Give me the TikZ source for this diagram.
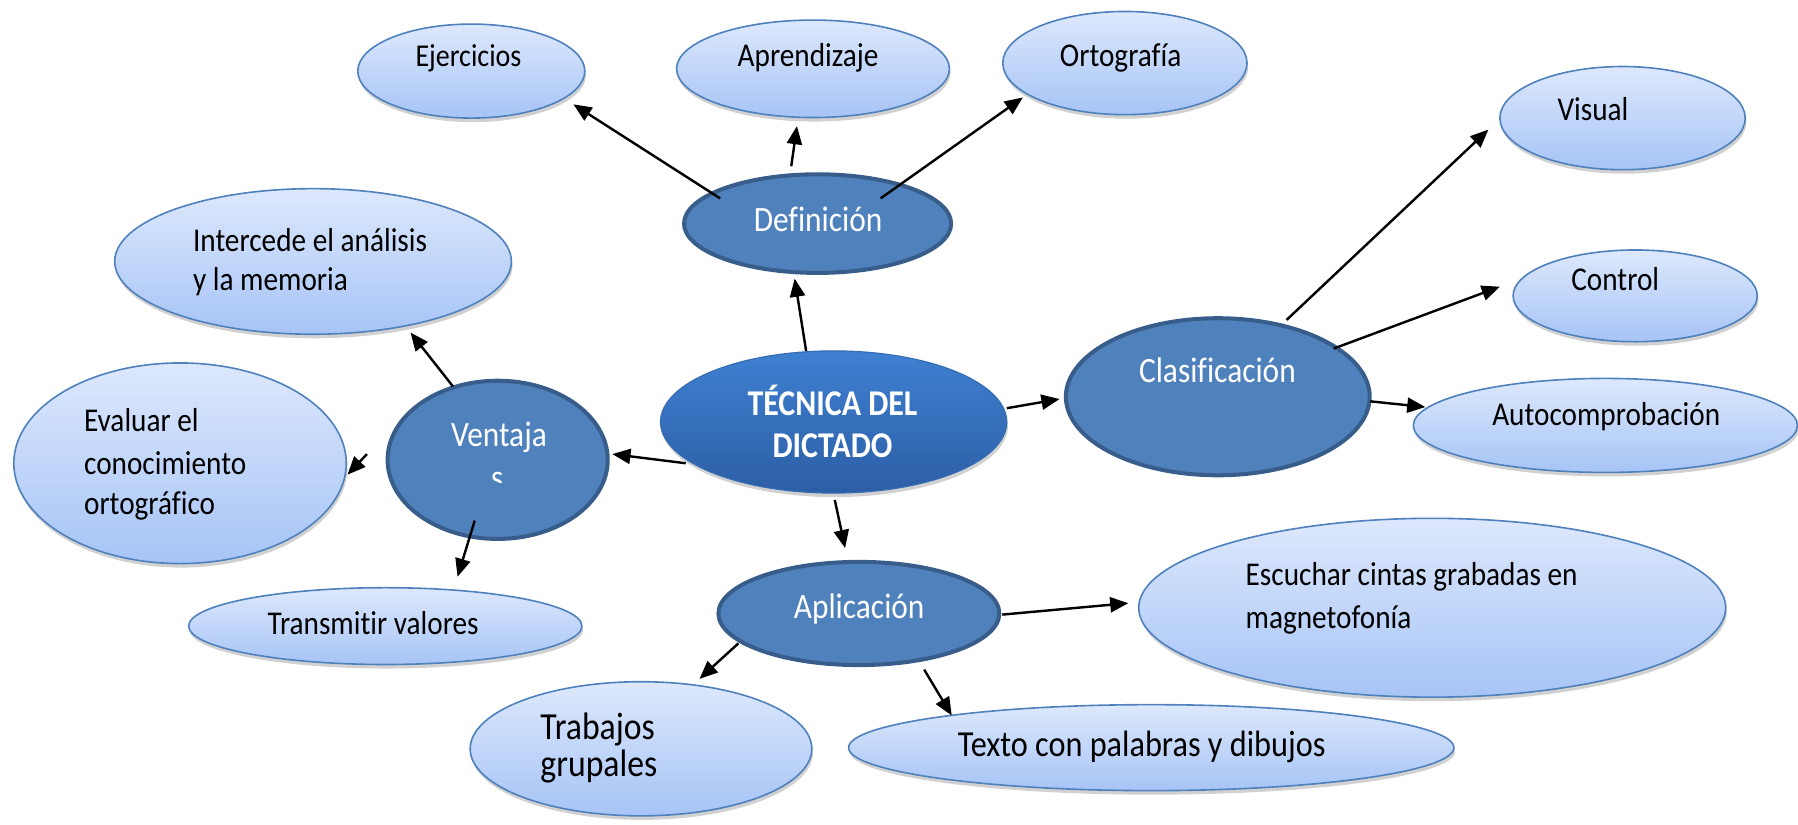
\documentclass[tikz,border=0pt]{standalone}
\usepackage{fontspec}
\setmainfont{Carlito}[FakeStretch=0.88,Ligatures=NoCommon]
\usetikzlibrary{shapes.geometric,arrows.meta,shadows}
\definecolor{lt}{HTML}{DDE8FC}
\definecolor{lb}{HTML}{A6C4F6}
\definecolor{lbord}{HTML}{4F81BD}
\definecolor{dk}{HTML}{4F81BD}
\definecolor{dkb}{HTML}{385D8A}
\definecolor{ct}{HTML}{3F80D2}
\definecolor{cb}{HTML}{2C5EA5}
\tikzset{
 shd/.style={drop shadow={shadow xshift=0.6pt, shadow yshift=-2pt, opacity=0.3, fill=black!60}},
 light/.style={ellipse, inner sep=0pt, draw=lbord, line width=0.8pt, top color=lt, bottom color=lb, shd},
 dark/.style={ellipse, inner sep=0pt, draw=dkb, line width=2pt, fill=dk},
 core/.style={ellipse, inner sep=0pt, draw=ct!85!black, line width=0.6pt, top color=ct, bottom color=cb, shd},
 lbl/.style={anchor=base west, inner sep=0pt, text=black, font=\fontsize{16.5pt}{20pt}\selectfont},
 dlbl/.style={anchor=base west, inner sep=0pt, text=white, font=\fontsize{17.7pt}{21pt}\selectfont},
 clbl/.style={anchor=base, inner sep=0pt, text=white, font=\fontsize{18pt}{21pt}\selectfont\bfseries},
 arr/.style={-{Triangle[length=9pt,width=7.5pt]}, line width=1.2pt, black},
}
\begin{document}
\begin{tikzpicture}[x=0.02cm, y=-0.02cm]
\useasboundingbox (0,0) rectangle (1568,719);
% light ellipses
\node[light, minimum width=3.96cm, minimum height=1.64cm] (ejer) at (411,62) {};
\node[light, minimum width=4.76cm, minimum height=1.70cm] (apre) at (709,60) {};
\node[light, minimum width=4.26cm, minimum height=1.80cm] (orto) at (981,55) {};
\node[light, minimum width=4.28cm, minimum height=1.80cm] (visu) at (1415,103) {};
\node[light, minimum width=4.26cm, minimum height=1.60cm] (cont) at (1426,258) {};
\node[light, minimum width=6.70cm, minimum height=1.64cm] (auto) at (1400,371) {};
\node[light, minimum width=6.92cm, minimum height=2.54cm] (inte) at (273,228) {};
\node[light, minimum width=5.80cm, minimum height=3.50cm] (eval) at (157,404) {};
\node[light, minimum width=6.86cm, minimum height=1.34cm] (tran) at (336,546) {};
\node[light, minimum width=10.24cm, minimum height=3.12cm] (escu) at (1249,530) {};
\node[light, minimum width=5.96cm, minimum height=2.34cm] (trab) at (559,653) {};
\node[light, minimum width=10.56cm, minimum height=1.50cm] (text) at (1004,652) {};
% dark ellipses
\node[dark, minimum width=4.66cm, minimum height=1.72cm] (defi) at (713,195) {};
\node[dark, minimum width=5.30cm, minimum height=2.74cm] (clas) at (1062,346) {};
\node[dark, minimum width=3.84cm, minimum height=2.76cm] (vent) at (434,401) {};
\node[dark, minimum width=4.90cm, minimum height=1.80cm] (apli) at (749,535) {};
\node[core, minimum width=6.04cm, minimum height=2.48cm] (tecn) at (727,368) {};
% labels
\node[lbl, font=\fontsize{15.8pt}{20pt}\selectfont] (l-ejer) at (362,58) {Ejercicios};
\node[lbl] (l-apre) at (643,58) {Aprendizaje};
\node[lbl] (l-orto) at (924,58) {Ortografía};
\node[lbl] (l-visu) at (1358,105) {Visual};
\node[lbl] (l-cont) at (1370,253) {Control};
\node[lbl] (l-auto) at (1301,371) {Autocomprobación};
\node[lbl] (l-inte1) at (168,219) {Intercede el análisis};
\node[lbl] (l-inte2) at (168,253) {y la memoria};
\node[lbl] (l-eval1) at (73,376) {Evaluar el};
\node[lbl] (l-eval2) at (73,414) {conocimiento};
\node[lbl] (l-eval3) at (73,449) {ortográfico};
\node[lbl] (l-tran) at (233,553) {Transmitir valores};
\node[lbl] (l-escu1) at (1086,511) {Escuchar cintas grabadas en};
\node[lbl] (l-escu2) at (1086,548) {magnetofonía};
\node[lbl, font=\fontsize{19pt}{20pt}\selectfont] (l-trab1) at (471,645) {Trabajos};
\node[lbl, font=\fontsize{19pt}{20pt}\selectfont] (l-trab2) at (471,677) {grupales};
\node[lbl, font=\fontsize{18.2pt}{20pt}\selectfont] (l-text) at (835,660) {Texto con palabras y dibujos};
\node[dlbl] (l-defi) at (657,202) {Definición};
\node[dlbl] (l-clas) at (993,334) {Clasificación};
\node[dlbl] (l-vent) at (393,389) {Ventaja};
\begin{scope}
\clip (380,400) rectangle (480,421);
\node[dlbl] (l-vents) at (428,427) {s};
\end{scope}
\node[dlbl] (l-apli) at (692,539) {Aplicación};
\node[clbl] (l-tecn1) at (726,362) {TÉCNICA DEL};
\node[clbl] (l-tecn2) at (726,399) {DICTADO};
% connector end points
\coordinate (a1s) at (628,173); \coordinate (a1e) at (500,91);
\coordinate (a2s) at (690,145); \coordinate (a2e) at (695,110);
\coordinate (a3s) at (768,173); \coordinate (a3e) at (892,85);
\coordinate (a4s) at (703,306); \coordinate (a4e) at (693,243);
\coordinate (a5s) at (878,356); \coordinate (a5e) at (924,348);
\coordinate (a6s) at (598,404); \coordinate (a6e) at (534,396);
\coordinate (a7s) at (728,436); \coordinate (a7e) at (737,478);
\coordinate (a8s) at (1122,279); \coordinate (a8e) at (1298,113);
\coordinate (a9s) at (1163,304); \coordinate (a9e) at (1308,250);
\coordinate (a10s) at (1195,350); \coordinate (a10e) at (1243,355);
\coordinate (a11s) at (395,337); \coordinate (a11e) at (358,290);
\coordinate (a12s) at (320,396); \coordinate (a12e) at (303,414);
\coordinate (a13s) at (414,454); \coordinate (a13e) at (399,503);
\coordinate (a14s) at (874,536); \coordinate (a14e) at (984,526);
\coordinate (a15s) at (644,561); \coordinate (a15e) at (610,592);
\coordinate (a16s) at (806,584); \coordinate (a16e) at (830,624);
\foreach \i in {1,...,16} \draw[arr] (a\i s) -- (a\i e);
\end{tikzpicture}
\end{document}
